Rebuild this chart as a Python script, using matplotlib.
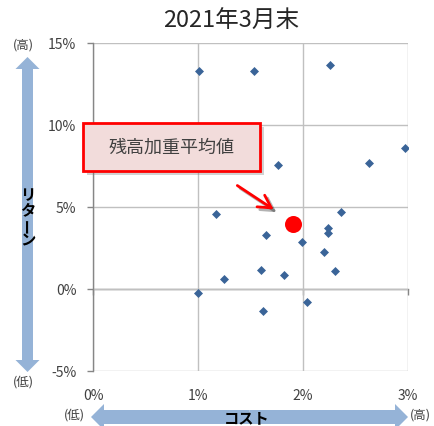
import matplotlib.pyplot as plt
import matplotlib.patheffects as pe
from matplotlib.patches import FancyArrow, Rectangle
from matplotlib.ticker import FuncFormatter

plt.rcParams["font.family"] = ["Noto Sans CJK JP", "DejaVu Sans"]

TITLE = "2021年3月末"
MEAN_LABEL = "残高加重平均値"
Y_LABEL = "リターン"
X_LABEL = "コスト"
HIGH = "(高)"
LOW = "(低)"

# cost (%) and return (%) of each fund
cost = [1.01, 1.53, 2.26, 2.97, 2.63, 1.76, 1.17, 2.36, 2.235, 2.235,
        1.65, 1.99, 2.20, 1.60, 1.82, 2.30, 1.25, 1.00, 2.04, 1.62]
ret = [13.3, 13.3, 13.66, 8.58, 7.68, 7.58, 4.60, 4.67, 3.72, 3.43,
       3.29, 2.87, 2.26, 1.16, 0.87, 1.12, 0.61, -0.22, -0.77, -1.32]

# balance-weighted average
mean_cost = 1.90
mean_ret = 3.96

x_ticks = [0, 1, 2, 3]
y_ticks = [-5, 0, 5, 10, 15]

color = {
    "point": "#3A6498",
    "mean": "#FF0000",
    "grid": "#C0C0C0",
    "axis": "#868686",
    "tick": "#404040",
    "band": "#95B3D7",
    "box": "#F2DCDB",
}

W, H = 434, 427
fig = plt.figure(figsize=(W / 100, H / 100), dpi=100)
ax = fig.add_axes([93 / W, 1 - 372 / H, 315 / W, 328 / H])

ax.scatter(cost, ret, marker="D", s=21, color=color["point"], linewidths=0, zorder=3)
ax.scatter([mean_cost], [mean_ret], s=150, color=color["mean"], linewidths=0, zorder=4)

ax.set_xlim(x_ticks[0], x_ticks[-1])
ax.set_ylim(y_ticks[0], y_ticks[-1])
ax.set_xticks(x_ticks)
ax.set_yticks(y_ticks)
ax.xaxis.set_major_formatter(FuncFormatter(lambda v, _: f"{v:.0f}%"))
ax.yaxis.set_major_formatter(FuncFormatter(lambda v, _: f"{v:.0f}%"))
ax.grid(True, color=color["grid"], lw=1.0)
ax.set_axisbelow(True)

for side in ["top", "right", "bottom"]:
    ax.spines[side].set_visible(False)
ax.spines["left"].set_color(color["axis"])
ax.spines["left"].set_linewidth(1.0)
ax.spines["left"].set_zorder(2)

ax.tick_params(axis="x", length=0, pad=12, labelsize=10, labelcolor=color["tick"])
ax.tick_params(axis="y", length=4, pad=8, width=1.0, color=color["axis"],
               labelsize=10, labelcolor=color["tick"])

# horizontal axis crosses at 0% return
zero_axis = ax.secondary_xaxis(0.25)
zero_axis.set_xticks(x_ticks)
zero_axis.tick_params(length=4, width=1.0, color=color["axis"], labelbottom=False)
zero_axis.spines["bottom"].set_color(color["axis"])
zero_axis.spines["bottom"].set_linewidth(1.0)

# overlay in pixel units for the callout and the axis bands
deco = fig.add_axes([0, 0, 1, 1], facecolor="none")
deco.set_xlim(0, W)
deco.set_ylim(H, 0)
deco.axis("off")

fig.text(231 / W, 1 - 21 / H, TITLE, ha="center", va="center", fontsize=17, color="#262626")

# return band
for dy in [-157.5, 157.5]:
    deco.add_patch(FancyArrow(27.5, 215.5, 0, dy, width=11, head_width=24, head_length=12,
                              length_includes_head=True, color=color["band"], lw=0))
for i, ch in enumerate(Y_LABEL):
    deco.text(27.5, 195 + i * 15, ch, ha="center", va="center", fontsize=11,
              fontweight="bold", rotation=90 if ch == "ー" else 0)
deco.text(23.5, 45, HIGH, ha="center", va="center", fontsize=9, color="#404040")
deco.text(23.5, 382, LOW, ha="center", va="center", fontsize=9, color="#404040")

# cost band
for dx in [-158.5, 158.5]:
    deco.add_patch(FancyArrow(249.5, 418, dx, 0, width=14, head_width=26, head_length=13,
                              length_includes_head=True, color=color["band"], lw=0))
deco.text(247, 418, X_LABEL, ha="center", va="center", fontsize=11, fontweight="bold")
deco.text(74, 415, LOW, ha="center", va="center", fontsize=9, color="#404040")
deco.text(420, 415, HIGH, ha="center", va="center", fontsize=9, color="#404040")

# callout for the weighted average
shadow = [pe.SimplePatchShadow(offset=(3, -3), shadow_rgbFace="#808080", alpha=0.35), pe.Normal()]
deco.add_patch(Rectangle((83, 124), 177, 48, facecolor=color["box"], edgecolor=color["mean"],
                         lw=2, path_effects=shadow))
deco.text(171.5, 148, MEAN_LABEL, ha="center", va="center", fontsize=13, color="#404040")
deco.annotate("", xy=(276, 212), xytext=(235, 185),
              arrowprops=dict(arrowstyle="->,head_length=0.9,head_width=0.5",
                              color=color["mean"], lw=2,
                              path_effects=[pe.SimpleLineShadow(offset=(2, -2), alpha=0.3), pe.Normal()]))

fig.savefig("out.png", dpi=100)
